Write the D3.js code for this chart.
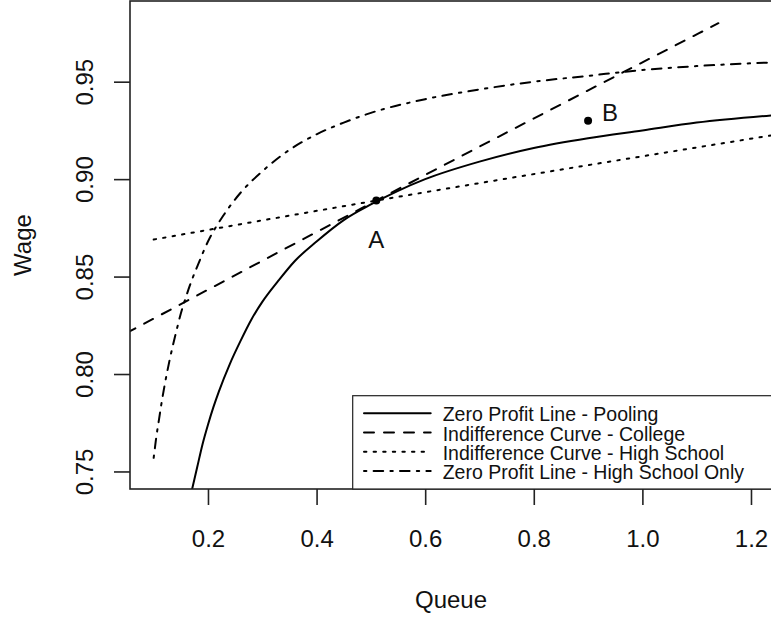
<!DOCTYPE html>
<html>
<head>
<meta charset="utf-8">
<script src="https://cdn.jsdelivr.net/npm/d3@7"></script>
<style>
body { margin: 0; background: #fff; }
text { font-family: "Liberation Sans", Arial, Helvetica, sans-serif; fill: #111; }
</style>
</head>
<body>
<script>
// tick values
var xTicks = [0.2, 0.4, 0.6, 0.8, 1.0, 1.2];
var yTicks = [0.75, 0.80, 0.85, 0.90, 0.95];

// Zero Profit Line - Pooling
var poolQueue = [0.17, 0.175, 0.18, 0.19, 0.20, 0.21, 0.22, 0.24, 0.26, 0.28, 0.30, 0.33, 0.36, 0.40, 0.45, 0.50, 0.55, 0.60, 0.70, 0.80, 0.90, 1.00, 1.10, 1.25];
var poolWage  = [0.740, 0.746, 0.752, 0.764, 0.774, 0.783, 0.791, 0.805, 0.817, 0.828, 0.837, 0.848, 0.858, 0.868, 0.879, 0.887, 0.894, 0.900, 0.909, 0.916, 0.921, 0.925, 0.929, 0.933];

// Indifference Curve - College
var collegeQueue = [0.05, 0.51, 1.14];
var collegeWage  = [0.821, 0.889, 0.980];

// Indifference Curve - High School
var hsIndQueue = [0.10, 0.51, 1.25];
var hsIndWage  = [0.869, 0.889, 0.923];

// Zero Profit Line - High School Only
var hsOnlyQueue = [0.10, 0.105, 0.11, 0.115, 0.12, 0.13, 0.14, 0.15, 0.16, 0.17, 0.18, 0.20, 0.23, 0.26, 0.30, 0.35, 0.40, 0.45, 0.50, 0.60, 0.70, 0.80, 0.90, 1.00, 1.10, 1.25];
var hsOnlyWage  = [0.757, 0.768, 0.777, 0.786, 0.794, 0.808, 0.820, 0.831, 0.840, 0.848, 0.855, 0.868, 0.882, 0.893, 0.904, 0.915, 0.923, 0.929, 0.934, 0.941, 0.946, 0.950, 0.953, 0.956, 0.958, 0.960];

// labelled points
var pointNames = ["A", "B"];
var pointQueue = [0.51, 0.90];
var pointWage  = [0.889, 0.930];

var legendLabels = ["Zero Profit Line - Pooling", "Indifference Curve - College",
                    "Indifference Curve - High School", "Zero Profit Line - High School Only"];

var width = 771, height = 621;
var plot = {left: 130, top: 1, right: 772, bottom: 489};

function zip(qs, ws) {
  return qs.map(function(q, i) { return {q: q, w: ws[i]}; });
}

var series = [
  {data: zip(poolQueue, poolWage), dash: null},
  {data: zip(collegeQueue, collegeWage), dash: "10,10"},
  {data: zip(hsIndQueue, hsIndWage), dash: "2.4,7.2"},
  {data: zip(hsOnlyQueue, hsOnlyWage), dash: "2.4,7.2,9.6,7.2"}
];

var svg = d3.select("body")
            .append("svg")
            .attr("width", width)
            .attr("height", height);

var xScale = d3.scaleLinear()
               .domain([0.0564, 1.2387])
               .range([plot.left, plot.right]);

var yScale = d3.scaleLinear()
               .domain([0.741, 0.9914])
               .range([plot.bottom, plot.top]);

svg.append("clipPath")
   .attr("id", "clip")
   .append("rect")
   .attr("x", plot.left)
   .attr("y", plot.top)
   .attr("width", plot.right - plot.left)
   .attr("height", plot.bottom - plot.top);

var line = d3.line()
             .x(function(d) { return xScale(d.q); })
             .y(function(d) { return yScale(d.w); })
             .curve(d3.curveMonotoneX);

//Draw the curves
svg.append("g")
   .attr("clip-path", "url(#clip)")
   .selectAll("path")
   .data(series)
   .enter()
   .append("path")
   .attr("d", function(d) { return line(d.data); })
   .attr("fill", "none")
   .attr("stroke", "#000")
   .attr("stroke-width", 2)
   .attr("stroke-linecap", "round")
   .attr("stroke-dasharray", function(d) { return d.dash; });

//Points A and B
var pts = zip(pointQueue, pointWage);
svg.selectAll("circle.pt")
   .data(pts)
   .enter()
   .append("circle")
   .attr("class", "pt")
   .attr("cx", function(d) { return xScale(d.q); })
   .attr("cy", function(d) { return yScale(d.w); })
   .attr("r", 4)
   .attr("fill", "#000");

svg.selectAll("text.ptlabel")
   .data(pts)
   .enter()
   .append("text")
   .attr("class", "ptlabel")
   .text(function(d, i) { return pointNames[i]; })
   .attr("font-size", 24)
   .attr("x", function(d, i) { return xScale(d.q) + (i == 0 ? 0 : 14); })
   .attr("y", function(d, i) { return yScale(d.w) + (i == 0 ? 47 : 0.5); })
   .attr("text-anchor", function(d, i) { return i == 0 ? "middle" : "start"; });

//Box
svg.append("rect")
   .attr("x", plot.left)
   .attr("y", plot.top)
   .attr("width", plot.right + 20 - plot.left)
   .attr("height", plot.bottom - plot.top)
   .attr("fill", "none")
   .attr("stroke", "#222")
   .attr("stroke-width", 1.6);

//X axis
var xAxis = d3.axisBottom(xScale)
              .tickValues(xTicks)
              .tickSize(16)
              .tickFormat(d3.format(".1f"));

var gx = svg.append("g")
   .attr("transform", "translate(0," + plot.bottom + ")")
   .call(xAxis);
gx.select(".domain").remove();
gx.selectAll("line").attr("stroke", "#222").attr("stroke-width", 1.6);
gx.selectAll("text")
  .attr("font-size", 24)
  .attr("y", 57.7)
  .attr("dy", null)
  .attr("fill", null);

//Y axis
var yAxis = d3.axisLeft(yScale)
              .tickValues(yTicks)
              .tickSize(16)
              .tickFormat(d3.format(".2f"));

var gy = svg.append("g")
   .attr("transform", "translate(" + plot.left + ",0)")
   .call(yAxis);
gy.select(".domain").remove();
gy.selectAll("line").attr("stroke", "#222").attr("stroke-width", 1.6);
gy.selectAll("text")
  .attr("font-size", 24)
  .attr("x", null)
  .attr("dy", null)
  .attr("fill", null)
  .attr("text-anchor", "middle")
  .attr("transform", "translate(-36.7,0) rotate(-90)");
gy.attr("font-family", null).attr("font-size", null);
gx.attr("font-family", null).attr("font-size", null);

//Axis labels
svg.append("text")
   .text("Queue")
   .attr("font-size", 24)
   .attr("x", (plot.left + plot.right) / 2)
   .attr("y", 608)
   .attr("text-anchor", "middle");

svg.append("text")
   .text("Wage")
   .attr("font-size", 24)
   .attr("transform", "translate(30.5," + (plot.top + plot.bottom) / 2 + ") rotate(-90)")
   .attr("text-anchor", "middle");

//Legend
var legend = svg.append("g");
legend.append("rect")
      .attr("x", 352.7)
      .attr("y", 395.7)
      .attr("width", 500)
      .attr("height", plot.bottom - 395.7)
      .attr("fill", "#fff")
      .attr("stroke", "#222")
      .attr("stroke-width", 1.2);

var rows = legend.selectAll("g.row")
      .data(series)
      .enter()
      .append("g")
      .attr("class", "row")
      .attr("transform", function(d, i) { return "translate(0," + (413.3 + i * 19.2) + ")"; });

rows.append("line")
    .attr("x1", 364)
    .attr("x2", 430.7)
    .attr("stroke", "#000")
    .attr("stroke-width", 2)
    .attr("stroke-linecap", "round")
    .attr("stroke-dasharray", function(d) { return d.dash; });

rows.append("text")
    .text(function(d, i) { return legendLabels[i]; })
    .attr("x", 442.7)
    .attr("y", 8)
    .attr("font-size", 19.5);
</script>
</body>
</html>
